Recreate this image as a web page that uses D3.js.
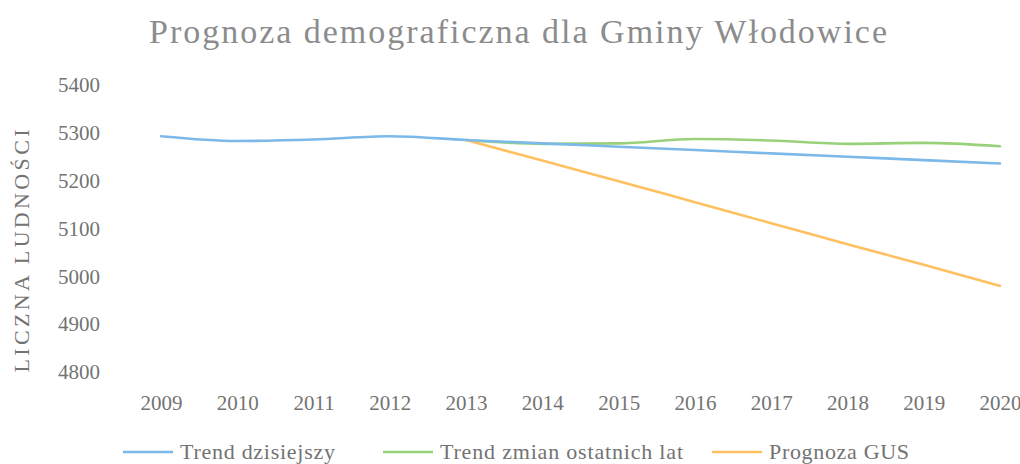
<!DOCTYPE html>
<html>
<head>
<meta charset="utf-8">
<script src="https://cdn.jsdelivr.net/npm/d3@7"></script>
<style>
  html, body { margin: 0; padding: 0; background: #fff; }
  svg { display: block; }
</style>
</head>
<body>
<svg id="chart" width="1020" height="464"></svg>
<script>
// data
const years = [2009, 2010, 2011, 2012, 2013, 2014, 2015, 2016, 2017, 2018, 2019, 2020];
const trendToday = [5293, 5283, 5286, 5293, 5285, 5278, 5271, 5264, 5257, 5250, 5243, 5236];
const trendRecent = [null, null, null, null, 5285, 5277, 5278, 5287, 5284, 5277, 5279, 5272];
const gusForecast = [null, null, null, null, 5285, 5242, 5199, 5155, 5111, 5067, 5024, 4980];
const yTicks = [4800, 4900, 5000, 5100, 5200, 5300, 5400];
const seriesNames = ['Trend dzisiejszy', 'Trend zmian ostatnich lat', 'Prognoza GUS'];
const seriesColors = ['#7db9e8', '#98d17a', '#ffc061'];

const serif = '"Liberation Serif", "DejaVu Serif", serif';
const svg = d3.select('#chart');

const x = d3.scalePoint().domain(years).range([161, 1000]);
const y = d3.scaleLinear().domain([4800, 5400]).range([372, 85]);

// title
svg.append('text')
  .attr('x', 518).attr('y', 43)
  .attr('text-anchor', 'middle')
  .attr('textLength', 738)
  .attr('lengthAdjust', 'spacing')
  .attr('fill', '#8c8c8c')
  .style('font-family', serif)
  .style('font-size', '34px')
  .text('Prognoza demograficzna dla Gminy Włodowice');

// y axis (labels only)
const yAxis = d3.axisLeft(y).tickValues(yTicks).tickFormat(d3.format('d')).tickSize(0).tickPadding(0);
const gy = svg.append('g').attr('transform', 'translate(100,0)').call(yAxis);
gy.select('.domain').remove();
gy.selectAll('text')
  .style('font-family', serif)
  .style('font-size', '21px')
  .attr('fill', '#737373');

// x axis (labels only)
const xAxis = d3.axisBottom(x).tickFormat(d3.format('d')).tickSize(0).tickPadding(0);
const gx = svg.append('g').attr('transform', 'translate(0,395)').call(xAxis);
gx.select('.domain').remove();
gx.selectAll('text')
  .style('font-family', serif)
  .style('font-size', '21px')
  .attr('fill', '#737373');

// y axis title
svg.append('text')
  .attr('transform', 'translate(29,251) rotate(-90)')
  .attr('text-anchor', 'middle')
  .attr('textLength', 243)
  .attr('lengthAdjust', 'spacing')
  .attr('fill', '#737373')
  .style('font-family', serif)
  .style('font-size', '22px')
  .text('LICZNA LUDNOŚCI');

// lines
const line = d3.line()
  .defined(d => d[1] != null)
  .x(d => x(d[0]))
  .y(d => y(d[1]))
  .curve(d3.curveMonotoneX);

const allSeries = [trendRecent, gusForecast, trendToday];
const colorFor = [seriesColors[1], seriesColors[2], seriesColors[0]];
allSeries.forEach((vals, i) => {
  svg.append('path')
    .datum(years.map((yr, j) => [yr, vals[j]]))
    .attr('d', line)
    .attr('fill', 'none')
    .attr('stroke', colorFor[i])
    .attr('stroke-width', 2.6)
    .attr('stroke-linecap', 'round');
});

// legend
const legendX = [123, 383, 712];
const legendLen = [155, 243, 140];
const legend = svg.append('g');
seriesNames.forEach((name, i) => {
  legend.append('line')
    .attr('x1', legendX[i]).attr('x2', legendX[i] + 50)
    .attr('y1', 452).attr('y2', 452)
    .attr('stroke', seriesColors[i])
    .attr('stroke-width', 2.6);
  legend.append('text')
    .attr('x', legendX[i] + 57).attr('y', 459)
    .attr('textLength', legendLen[i])
    .attr('lengthAdjust', 'spacing')
    .attr('fill', '#737373')
    .style('font-family', serif)
    .style('font-size', '22px')
    .text(name);
});
</script>
</body>
</html>
